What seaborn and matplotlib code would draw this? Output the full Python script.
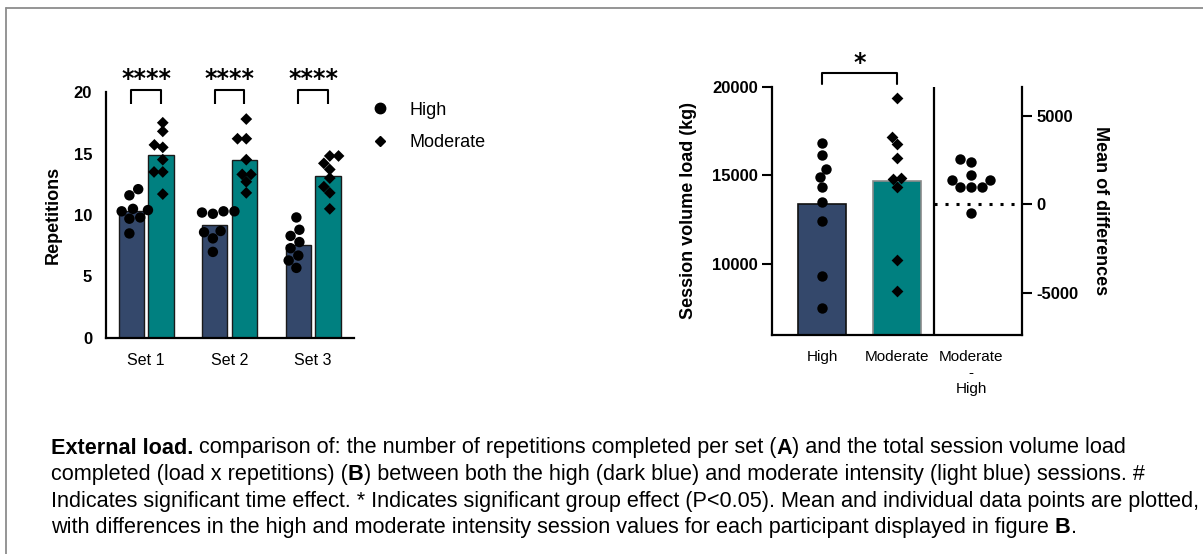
import numpy as np
import pandas as pd
import matplotlib
matplotlib.use("Agg")
import matplotlib.pyplot as plt
from matplotlib.lines import Line2D
import seaborn as sns

# ---------------- data ----------------
sets = ["Set 1", "Set 2", "Set 3"]
intensities = ["High", "Moderate"]

high_set1 = [12.1, 11.6, 10.5, 10.4, 10.3, 9.8, 9.7, 8.5]
high_set2 = [10.3, 10.2, 10.3, 10.1, 8.7, 8.6, 8.1, 7.0]
high_set3 = [9.8, 8.8, 8.3, 7.8, 7.3, 6.7, 6.3, 5.7]
mod_set1 = [17.5, 16.8, 15.7, 15.5, 14.5, 13.5, 13.5, 11.7]
mod_set2 = [17.8, 16.2, 16.2, 14.5, 13.3, 13.3, 12.7, 11.8]
mod_set3 = [14.8, 14.8, 14.2, 13.7, 13.0, 12.3, 11.8, 10.5]

volume_groups = ["High", "Moderate"]
diff_label = "Moderate\n-\nHigh"
high_volume = [16800, 16150, 15370, 14900, 14330, 13490, 12400, 9300, 7520]
moderate_volume = [19350, 17180, 16770, 16000, 14840, 14790, 14370, 10240, 8460]
differences = [2400, 2540, 1650, 1370, 1370, 990, 960, 960, -510]

a_ticks = [0, 5, 10, 15, 20]
b_ticks = [10000, 15000, 20000]
b_right_ticks = [-5000, 0, 5000]

# ---------------- style ----------------
sns.set_style("white")
plt.rcParams["font.family"] = ["Liberation Sans", "DejaVu Sans"]
plt.rcParams["axes.linewidth"] = 1.5
plt.rcParams["axes.unicode_minus"] = False
for k in ["text.color", "axes.labelcolor", "xtick.color", "ytick.color", "axes.edgecolor"]:
    plt.rcParams[k] = "black"

c_high = "#34486B"
c_mod = "#008080"
palette = {"High": c_high, "Moderate": c_mod}
black_pal = {"High": "black", "Moderate": "black"}

W, H = 1203, 554
fig = plt.figure(figsize=(W / 100, H / 100), dpi=100)

def px_axes(l, t, r, b):
    return fig.add_axes([l / W, 1 - b / H, (r - l) / W, (b - t) / H])

TICK_Y = 12
LAB = 13

# ---------------- panel A ----------------
axA = px_axes(106, 92, 354, 338)
rows = []
for s, hv, mv in zip(sets, [high_set1, high_set2, high_set3], [mod_set1, mod_set2, mod_set3]):
    rows += [(s, "High", v) for v in hv]
    rows += [(s, "Moderate", v) for v in mv]
dfA = pd.DataFrame(rows, columns=["Set", "Intensity", "Repetitions"])

sns.barplot(data=dfA, x="Set", y="Repetitions", hue="Intensity", order=sets,
            hue_order=intensities, palette=palette, saturation=1, errorbar=None,
            width=0.71, gap=0.15, edgecolor="#1a1a1a", linewidth=1.0, ax=axA,
            legend=False)
for inten, mk, sz in [("High", "o", 7.5), ("Moderate", "D", 6.0)]:
    sns.swarmplot(data=dfA[dfA.Intensity == inten], x="Set", y="Repetitions",
                  hue="Intensity", order=sets, hue_order=intensities, dodge=True,
                  palette=black_pal, marker=mk, size=sz, linewidth=0, ax=axA,
                  legend=False)

axA.set_xlim(-0.48, 2.49)
axA.set_ylim(0, 20)
axA.set_yticks(a_ticks)
axA.set_xlabel("")
axA.set_ylabel("Repetitions", fontsize=LAB, fontweight="bold")
axA.yaxis.set_label_coords(-0.18, 0.5)
for sp in ["top", "right"]:
    axA.spines[sp].set_visible(False)
for sp in ["left", "bottom"]:
    axA.spines[sp].set_linewidth(1.6)
axA.tick_params(axis="both", direction="out", length=7.5, width=1.5, color="black")
axA.tick_params(axis="y", labelsize=TICK_Y, pad=2.5)
axA.tick_params(axis="x", labelsize=11.5, pad=3)
for lbl in axA.get_yticklabels():
    lbl.set_fontweight("bold")

off = 0.177
for i in range(len(sets)):
    axA.plot([i - off, i - off, i + off, i + off], [19.0, 20.15, 20.15, 19.0],
             color="black", lw=1.5, clip_on=False, solid_capstyle="butt")
    axA.text(i, 20.5, "****", ha="center", va="baseline", fontsize=17,
             fontweight="bold", family=["DejaVu Sans"], clip_on=False)

handles = [Line2D([], [], ls="", marker="o", color="black", markersize=7.5),
           Line2D([], [], ls="", marker="D", color="black", markersize=5.5)]
axA.legend(handles, intensities, loc="upper left", bbox_to_anchor=(1.04, 0.99),
           frameon=False, fontsize=13, handletextpad=1.1, labelspacing=0.85,
           handlelength=1.0, borderaxespad=0)

# ---------------- panel B ----------------
axB = px_axes(772, 86.7, 1022, 335)
order_B = volume_groups + [diff_label]
dfB = pd.DataFrame({"Session": ["High"] * len(high_volume) + ["Moderate"] * len(moderate_volume),
                    "Volume": high_volume + moderate_volume})
dfD = pd.DataFrame({"Comparison": [diff_label] * len(differences), "Difference": differences})

sns.barplot(data=dfB, x="Session", y="Volume", hue="Session", order=order_B,
            hue_order=volume_groups, palette=palette, saturation=1, errorbar=None,
            width=0.65, linewidth=1.2, ax=axB, legend=False)
for p, ec in zip(axB.patches, ["#111111", "#8a8a8a"]):
    p.set_edgecolor(ec)

sns.swarmplot(data=dfB[dfB.Session == "High"], x="Session", y="Volume", order=order_B,
              color="black", marker="o", size=7.5, linewidth=0, ax=axB)
sns.swarmplot(data=dfB[dfB.Session == "Moderate"], x="Session", y="Volume", order=order_B,
              color="black", marker="D", size=6.0, linewidth=0, ax=axB)

ylimB = (6000, 20000)
axB.set_ylim(*ylimB)
axB.set_yticks(b_ticks)
axB.set_xlabel("")
axB.set_ylabel("Session volume load (kg)", fontsize=LAB, fontweight="bold")
axB.yaxis.set_label_coords(-0.30, 0.5)
axB.spines["top"].set_visible(False)
axB.spines["right"].set_visible(False)
for sp in ["left", "bottom"]:
    axB.spines[sp].set_linewidth(1.6)
axB.tick_params(axis="both", direction="out", length=7.5, width=1.5, color="black")
axB.tick_params(axis="y", labelsize=TICK_Y, pad=2.5)
axB.tick_params(axis="x", labelsize=11, pad=3)

axB2 = axB.twinx()
sns.swarmplot(data=dfD, x="Comparison", y="Difference", order=order_B,
              color="black", marker="o", size=7.5, linewidth=0, ax=axB2)
ref = float(np.mean(high_volume))
axB2.set_ylim(ylimB[0] - ref, ylimB[1] - ref)
axB2.set_yticks(b_right_ticks)
axB2.set_xlabel("")
axB2.set_ylabel("Mean of differences", fontsize=LAB, fontweight="bold")
axB2.yaxis.set_label_position("right")
axB2.yaxis.label.set_rotation(270)
axB2.yaxis.label.set_verticalalignment("bottom")
axB2.yaxis.set_label_coords(1.28, 0.5)
for sp in ["top", "left", "bottom"]:
    axB2.spines[sp].set_visible(False)
axB2.spines["right"].set_linewidth(1.6)
axB2.tick_params(axis="y", direction="out", length=7.5, width=1.5, color="black",
                 labelsize=TICK_Y, pad=3)
for lbl in axB.get_yticklabels() + axB2.get_yticklabels():
    lbl.set_fontweight("bold")

xlimB = (-0.677, 2.686)
axB.set_xlim(*xlimB)
axB.set_xticks(range(len(order_B)))
axB.set_xticklabels(order_B)
axB.axvline(1.5, color="black", lw=1.6)
axB2.hlines(0, 1.5, xlimB[1], colors="black", lw=2.2, linestyles=(0, (1, 2.6)))

# significance bracket B
axB.plot([0, 0, 1, 1], [20130, 20790, 20790, 20130], color="black", lw=1.5,
         clip_on=False)
axB.text(0.5, 20950, "*", ha="center", va="baseline", fontsize=17,
         fontweight="bold", family=["DejaVu Sans"], clip_on=False)

# ---------------- frame ----------------
fig.add_artist(Line2D([6 / W, 1], [1 - 8 / H] * 2, transform=fig.transFigure,
                      color="#8c8c8c", lw=1.3))
fig.add_artist(Line2D([6 / W] * 2, [0, 1 - 8 / H], transform=fig.transFigure,
                      color="#8c8c8c", lw=1.3))

# ---------------- caption ----------------
cap_lines = [
    [("External load.", "bold"), (" comparison of: the number of repetitions completed per set (", "normal"),
     ("A", "bold"), (") and the total session volume load", "normal")],
    [("completed (load x repetitions) (", "normal"), ("B", "bold"),
     (") between both the high (dark blue) and moderate intensity (light blue) sessions. #", "normal")],
    [("Indicates significant time effect. * Indicates significant group effect (P<0.05). Mean and individual data points are plotted,", "normal")],
    [("with differences in the high and moderate intensity session values for each participant displayed in figure ", "normal"),
     ("B", "bold"), (".", "normal")],
]
baselines = [453.5, 480, 506.5, 533]
cap_size = 15.6
renderer = fig.canvas.get_renderer()
for parts, yb in zip(cap_lines, baselines):
    x = 51.0
    for txt, wt in parts:
        t = fig.text(x / W, 1 - yb / H, txt, fontsize=cap_size, fontweight=wt,
                     ha="left", va="baseline")
        bb = t.get_window_extent(renderer)
        x += bb.width

fig.savefig("out.png", dpi=100)
